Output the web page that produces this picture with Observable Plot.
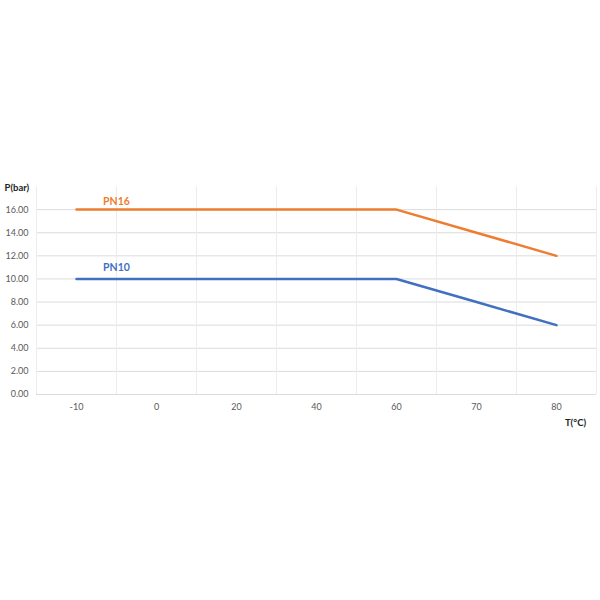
<!DOCTYPE html>
<html>
<head>
<meta charset="utf-8">
<script src="https://cdn.jsdelivr.net/npm/d3@7"></script>
<script src="https://cdn.jsdelivr.net/npm/@observablehq/plot@0.6"></script>
<style>
  html, body { margin: 0; padding: 0; background: #fff; }
  #chart { width: 600px; height: 600px; }
</style>
</head>
<body>
<div id="chart"></div>
<script>
const categories = ["-10", "0", "20", "40", "60", "70", "80"];
const pn16 = [16, 16, 16, 16, 16, 14, 12];
const pn10 = [10, 10, 10, 10, 10, 8, 6];
const yTicks = [0, 2, 4, 6, 8, 10, 12, 14, 16];
const seriesNames = ["PN16", "PN10"];
const seriesColors = ["#ED7D31", "#4270C0"];

const rows = [];
[pn16, pn10].forEach((vals, s) => {
  vals.forEach((v, i) => rows.push({series: seriesNames[s], i, v}));
});
const bounds = d3.range(categories.length + 1).map(k => k - 0.5);
const labels = [
  {series: "PN16", i: 0.5, v: 16.7},
  {series: "PN10", i: 0.5, v: 11.0}
];

const chart = Plot.plot({
  width: 600,
  height: 600,
  marginLeft: 36,
  marginRight: 4,
  marginTop: 186,
  marginBottom: 206,
  style: {fontFamily: "Lato, 'Liberation Sans', sans-serif", fontSize: "9px", color: "#595959", background: "#fff"},
  x: {domain: [-0.5, categories.length - 0.5], ticks: d3.range(categories.length), tickFormat: i => categories[i], tickSize: 0, tickPadding: 9, label: null},
  y: {domain: [0, 18], ticks: yTicks, tickFormat: d => d.toFixed(2), tickSize: 0, tickPadding: 8, label: null},
  color: {domain: seriesNames, range: seriesColors},
  marks: [
    Plot.ruleY(yTicks, {stroke: "#dcdcdc", strokeWidth: 1}),
    Plot.ruleX(bounds, {y1: 0, y2: 18, stroke: "#ececec", strokeWidth: 1}),
    Plot.line(rows, {x: "i", y: "v", z: "series", stroke: "series", strokeWidth: 2.5, strokeLinejoin: "miter"}),
    Plot.text(labels, {x: "i", y: "v", text: "series", fill: "series", fontWeight: "bold", fontSize: 10.5, textAnchor: "middle"}),
    Plot.text(["P(bar)"], {frameAnchor: "top-left", dx: -32, dy: -2, fontWeight: "bold", fontSize: 9.5, fill: "#222", textAnchor: "start"}),
    Plot.text(["T(°C)"], {frameAnchor: "bottom-right", dx: -21, dy: 31, fontWeight: "bold", fontSize: 9.5, fill: "#222", textAnchor: "middle"})
  ]
});
document.getElementById("chart").appendChild(chart);
</script>
</body>
</html>
